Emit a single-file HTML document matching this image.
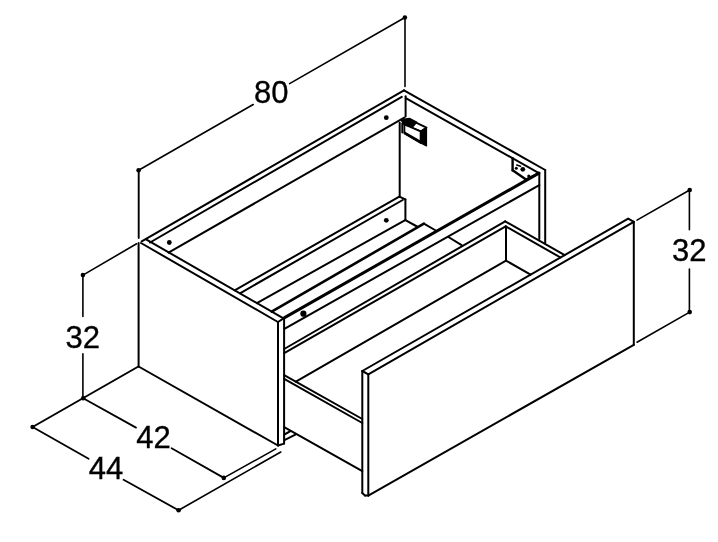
<!DOCTYPE html><html><head><meta charset="utf-8"><title>Drawing</title><style>html,body{margin:0;padding:0;background:#fff}svg{display:block;filter:grayscale(1)}</style></head><body><svg width="718" height="542" viewBox="0 0 718 542">
<g stroke="#000" stroke-linecap="round" stroke-linejoin="round" fill="none">
<line x1="138.6" y1="170.2" x2="253.2" y2="104.5" stroke-width="1.6"/>
<line x1="289.6" y1="83.6" x2="404.9" y2="17.5" stroke-width="1.6"/>
<line x1="138.7" y1="170.2" x2="138.7" y2="238.0" stroke-width="1.9"/>
<line x1="405.0" y1="17.5" x2="405.0" y2="86.5" stroke-width="1.6"/>
<line x1="689.4" y1="190.0" x2="689.4" y2="229.7" stroke-width="1.6"/>
<line x1="689.4" y1="269.0" x2="689.4" y2="312.1" stroke-width="1.6"/>
<line x1="637.0" y1="220.1" x2="689.7" y2="190.0" stroke-width="1.6"/>
<line x1="637.0" y1="342.2" x2="689.7" y2="312.1" stroke-width="1.6"/>
<line x1="82.9" y1="275.1" x2="82.9" y2="316.5" stroke-width="1.6"/>
<line x1="82.9" y1="353.8" x2="82.9" y2="398.2" stroke-width="1.6"/>
<line x1="82.9" y1="275.1" x2="136.6" y2="243.8" stroke-width="1.6"/>
<line x1="138.4" y1="366.5" x2="32.6" y2="427.0" stroke-width="2.0"/>
<line x1="83.2" y1="398.2" x2="136.0" y2="427.6" stroke-width="1.8"/>
<line x1="171.6" y1="448.3" x2="223.8" y2="477.9" stroke-width="1.8"/>
<line x1="223.8" y1="477.9" x2="275.8" y2="448.9" stroke-width="1.6"/>
<line x1="32.6" y1="427.0" x2="88.6" y2="458.8" stroke-width="1.8"/>
<line x1="123.6" y1="479.8" x2="178.6" y2="510.3" stroke-width="1.8"/>
<line x1="178.6" y1="510.3" x2="280.8" y2="452.0" stroke-width="1.6"/>
<line x1="138.6" y1="243.0" x2="138.6" y2="366.5" stroke-width="2.0"/>
<line x1="141.0" y1="243.0" x2="277.9" y2="322.0" stroke-width="2.0"/>
<line x1="146.5" y1="239.6" x2="283.9" y2="318.6" stroke-width="2.0"/>
<line x1="138.6" y1="366.5" x2="278.0" y2="445.5" stroke-width="2.0"/>
<line x1="278.0" y1="322.0" x2="278.0" y2="445.5" stroke-width="2.0"/>
<line x1="284.1" y1="318.2" x2="284.1" y2="443.6" stroke-width="2.0"/>
<line x1="278.0" y1="445.5" x2="284.1" y2="443.6" stroke-width="2.0"/>
<line x1="278.0" y1="322.0" x2="284.4" y2="317.8" stroke-width="2.0"/>
<line x1="141.7" y1="241.3" x2="404.0" y2="90.3" stroke-width="2.0"/>
<line x1="150.0" y1="242.5" x2="401.8" y2="96.9" stroke-width="2.0"/>
<line x1="168.5" y1="252.6" x2="404.3" y2="117.6" stroke-width="2.0"/>
<line x1="404.0" y1="90.3" x2="545.2" y2="170.0" stroke-width="2.0"/>
<line x1="405.8" y1="98.2" x2="538.9" y2="173.1" stroke-width="2.0"/>
<line x1="405.6" y1="96.3" x2="405.6" y2="116.6" stroke-width="2.0"/>
<line x1="399.7" y1="122.7" x2="399.7" y2="196.7" stroke-width="2.0"/>
<line x1="545.2" y1="170.0" x2="545.2" y2="242.7" stroke-width="2.0"/>
<line x1="539.3" y1="173.1" x2="539.3" y2="238.9" stroke-width="2.0"/>
<line x1="284.6" y1="317.6" x2="538.9" y2="173.1" stroke-width="3.0"/>
<line x1="284.4" y1="328.9" x2="539.3" y2="185.1" stroke-width="2.0"/>
<line x1="234.7" y1="290.3" x2="399.3" y2="196.7" stroke-width="2.0"/>
<line x1="240.0" y1="293.3" x2="402.7" y2="200.0" stroke-width="2.0"/>
<line x1="256.9" y1="303.1" x2="405.2" y2="220.1" stroke-width="2.0"/>
<line x1="271.7" y1="311.6" x2="423.9" y2="223.7" stroke-width="2.6"/>
<line x1="399.3" y1="196.7" x2="405.4" y2="199.4" stroke-width="2.0"/>
<line x1="405.4" y1="199.4" x2="405.4" y2="220.1" stroke-width="2.0"/>
<line x1="405.4" y1="220.1" x2="417.0" y2="226.5" stroke-width="2.0"/>
<line x1="423.9" y1="223.7" x2="435.8" y2="230.5" stroke-width="2.0"/>
<line x1="448.4" y1="237.0" x2="461.6" y2="245.2" stroke-width="2.0"/>
<line x1="402.3" y1="123.4" x2="402.3" y2="132.5" stroke-width="2.0"/>
<line x1="512.6" y1="158.3" x2="512.6" y2="170.3" stroke-width="2.4"/>
<line x1="512.6" y1="170.3" x2="526.0" y2="179.6" stroke-width="2.4"/>
<line x1="526.0" y1="179.6" x2="535.5" y2="175.0" stroke-width="2.4"/>
<line x1="516.8" y1="165.0" x2="520.5" y2="166.2" stroke-width="1.6"/>
<line x1="284.2" y1="349.0" x2="505.2" y2="221.3" stroke-width="2.0"/>
<line x1="284.2" y1="353.1" x2="505.7" y2="226.4" stroke-width="2.0"/>
<line x1="505.2" y1="221.3" x2="564.7" y2="255.1" stroke-width="2.0"/>
<line x1="505.7" y1="226.4" x2="560.5" y2="257.5" stroke-width="2.0"/>
<line x1="506.0" y1="226.4" x2="506.0" y2="260.6" stroke-width="2.0"/>
<line x1="295.9" y1="381.7" x2="506.0" y2="260.6" stroke-width="2.0"/>
<line x1="506.0" y1="260.6" x2="530.6" y2="274.6" stroke-width="2.0"/>
<line x1="284.2" y1="375.1" x2="362.3" y2="419.0" stroke-width="2.0"/>
<line x1="284.2" y1="378.9" x2="362.3" y2="423.0" stroke-width="2.0"/>
<line x1="284.2" y1="427.2" x2="362.3" y2="471.2" stroke-width="2.0"/>
<line x1="362.3" y1="371.0" x2="628.2" y2="218.7" stroke-width="2.0"/>
<line x1="368.3" y1="374.3" x2="633.8" y2="221.8" stroke-width="2.0"/>
<line x1="628.2" y1="218.7" x2="633.8" y2="221.8" stroke-width="2.0"/>
<line x1="362.3" y1="371.0" x2="368.3" y2="374.3" stroke-width="2.0"/>
<line x1="362.3" y1="371.0" x2="362.3" y2="493.0" stroke-width="2.0"/>
<line x1="368.3" y1="374.3" x2="368.3" y2="495.6" stroke-width="2.0"/>
<line x1="362.3" y1="493.0" x2="365.0" y2="495.6" stroke-width="2.0"/>
<line x1="365.0" y1="495.6" x2="368.3" y2="495.6" stroke-width="2.0"/>
<line x1="633.8" y1="221.8" x2="633.8" y2="344.8" stroke-width="2.0"/>
<line x1="368.3" y1="495.6" x2="633.8" y2="344.8" stroke-width="2.0"/>
<line x1="284.4" y1="434.5" x2="290.4" y2="431.2" stroke-width="2.0"/>
<line x1="284.4" y1="440.1" x2="295.4" y2="434.6" stroke-width="2.0"/>
<polygon points="404.4,124.5 409.8,119.6 426.5,127.6 420.6,131.4" fill="#fff" stroke="#000" stroke-width="1.8"/>
<polygon points="404.4,124.5 420.6,131.4 420.6,142.6 404.4,133.0" fill="#fff" stroke="#000" stroke-width="1.8"/>
<polygon points="404.4,132.2 420.6,141.4 420.6,143.2 404.4,133.6" fill="#000" stroke="#000" stroke-width="1.4"/>
<polygon points="420.6,131.4 426.5,127.6 426.5,146.0 420.6,143.0" fill="#000" stroke="#000" stroke-width="1.2"/>
<polygon points="400.5,119.5 409.5,118.4 417.0,122.2 412.5,127.0 404.4,124.8" fill="#000" stroke="#000" stroke-width="1.2"/>
</g><g fill="#000">
<circle cx="138.6" cy="170.2" r="2.3"/>
<circle cx="404.9" cy="17.5" r="2.3"/>
<circle cx="689.7" cy="190.0" r="2.3"/>
<circle cx="689.7" cy="312.1" r="2.3"/>
<circle cx="82.9" cy="275.1" r="2.3"/>
<circle cx="83.2" cy="398.2" r="2.3"/>
<circle cx="32.6" cy="427.0" r="2.3"/>
<circle cx="223.8" cy="477.9" r="2.3"/>
<circle cx="178.6" cy="510.3" r="2.3"/>
<circle cx="169.3" cy="242.5" r="2.4"/>
<circle cx="386.3" cy="117.7" r="2.4"/>
<circle cx="303.4" cy="313.7" r="3.1"/>
<circle cx="386.3" cy="220.3" r="2.4"/>
<circle cx="516.3" cy="168.2" r="1.5"/>
<circle cx="522.8" cy="169.3" r="2.4"/>
<circle cx="528.8" cy="176.0" r="1.6"/>
</g>
<g font-family="'Liberation Sans', Arial, Helvetica, sans-serif" font-size="31" fill="#000" stroke="#000" stroke-width="0.35" opacity="0.999">
<text x="271.2" y="103.3" text-anchor="middle">80</text>
<text x="689.2" y="260.9" text-anchor="middle">32</text>
<text x="82.7" y="347.5" text-anchor="middle">32</text>
<text x="153.6" y="447.8" text-anchor="middle">42</text>
<text x="105.9" y="479.2" text-anchor="middle">44</text>
</g></svg></body></html>
